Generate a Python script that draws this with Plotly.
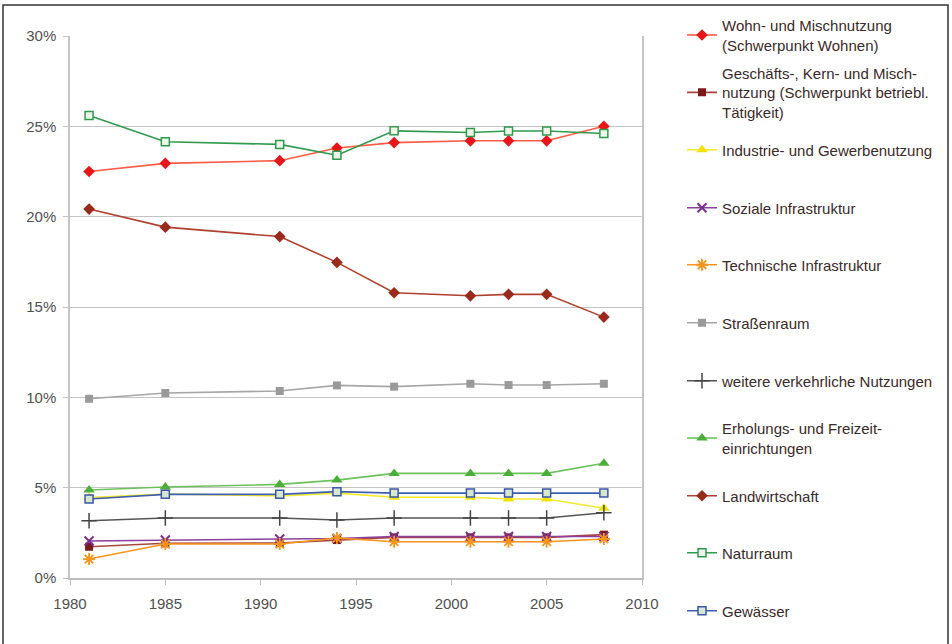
import plotly.graph_objects as go

years = [1981, 1985, 1991, 1994, 1997, 2001, 2003, 2005, 2008]

names = [
    "Wohn- und Mischnutzung<br>(Schwerpunkt Wohnen)",
    "Geschäfts-, Kern- und Misch-<br>nutzung (Schwerpunkt betriebl.<br>Tätigkeit)",
    "Industrie- und Gewerbenutzung",
    "Soziale Infrastruktur",
    "Technische Infrastruktur",
    "Straßenraum",
    "weitere verkehrliche Nutzungen",
    "Erholungs- und Freizeit-<br>einrichtungen",
    "Landwirtschaft",
    "Naturraum",
    "Gewässer",
]

wohn = [22.5, 22.95, 23.1, 23.8, 24.1, 24.2, 24.2, 24.2, 25.0]
geschaefts = [1.73, 1.92, 1.94, 2.1, 2.25, 2.25, 2.25, 2.25, 2.4]
industrie = [4.45, 4.65, 4.54, 4.7, 4.47, 4.47, 4.37, 4.37, 3.86]
soziale = [2.05, 2.1, 2.16, 2.19, 2.3, 2.3, 2.3, 2.3, 2.3]
technische = [1.05, 1.88, 1.88, 2.21, 2.01, 2.01, 2.01, 2.01, 2.16]
strassen = [9.92, 10.24, 10.35, 10.66, 10.59, 10.75, 10.68, 10.68, 10.75]
weitere = [3.17, 3.32, 3.32, 3.21, 3.32, 3.32, 3.32, 3.32, 3.61]
erholung = [4.87, 5.04, 5.18, 5.42, 5.79, 5.79, 5.79, 5.79, 6.35]
landwirtschaft = [20.42, 19.42, 18.9, 17.47, 15.79, 15.62, 15.7, 15.7, 14.44]
naturraum = [25.6, 24.15, 24.0, 23.4, 24.75, 24.66, 24.74, 24.74, 24.6]
gewaesser = [4.37, 4.63, 4.63, 4.78, 4.70, 4.70, 4.70, 4.70, 4.70]

series = [wohn, geschaefts, industrie, soziale, technische, strassen,
          weitere, erholung, landwirtschaft, naturraum, gewaesser]

x_ticks = [1980, 1985, 1990, 1995, 2000, 2005, 2010]
y_ticks = [0, 5, 10, 15, 20, 25, 30]
y_tick_text = ["0%", "5%", "10%", "15%", "20%", "25%", "30%"]

# styles: (line color, marker symbol, marker fill, marker line color, size, marker line width)
styles = [
    ("#ff5a45", "diamond", "#e8161a", "#e8161a", 9, 0),
    ("#a8463c", "square", "#7b1a1a", "#7b1a1a", 8, 0),
    ("#f5ea2a", "triangle-up", "#f2e400", "#f2e400", 10, 0),
    ("#8c3f9e", "x-thin-open", "#7a2e8e", "#7a2e8e", 9, 2),
    ("#f7941d", "asterisk-open", "#f7941d", "#f7941d", 10, 1.8),
    ("#a6a6a6", "square", "#9a9a9a", "#9a9a9a", 8, 0),
    ("#555555", "cross-thin-open", "#444444", "#444444", 11, 1.5),
    ("#6cc25a", "triangle-up", "#4cae3a", "#4cae3a", 10, 0),
    ("#b0402e", "diamond", "#9a2b1c", "#9a2b1c", 9, 0),
    ("#2f9a4e", "square", "#eef6ea", "#2f9a4e", 8, 1.5),
    ("#3f5fb0", "square", "#d6e6cf", "#3b58a8", 8, 1.5),
]

L, R, T, B = 70, 642, 36, 578
W, H = 952, 644
pw, ph = R - L, B - T

legend_y_px = [35, 92.6, 150, 208, 265, 323, 381, 438, 496, 553, 611]

fig = go.Figure()
layout_legends = {}
for i, (nm, vals, st) in enumerate(zip(names, series, styles)):
    lname = "legend" if i == 0 else f"legend{i+1}"
    lc, sym, mf, mlc, sz, mlw = st
    fig.add_trace(go.Scatter(
        x=years, y=vals, name=nm, mode="lines+markers",
        line=dict(color=lc, width=1.6),
        marker=dict(symbol=sym, color=mf, size=sz,
                    line=dict(color=mlc, width=mlw)),
        legend=lname,
    ))
    layout_legends[lname] = dict(
        x=(682 - L) / pw, xanchor="left",
        y=(B - legend_y_px[i]) / ph, yanchor="middle",
        bgcolor="rgba(0,0,0,0)",
        font=dict(family="Liberation Sans, Arial, sans-serif", size=15, color="#3b2a2a"),
        valign="middle",
        itemwidth=30,
    )

fig.update_layout(
    width=W, height=H,
    margin=dict(l=L, r=W - R, t=T, b=H - B, autoexpand=False),
    paper_bgcolor="white", plot_bgcolor="white",
    font=dict(family="Liberation Sans, Arial, sans-serif", size=14, color="#555555"),
    showlegend=True,
    xaxis=dict(
        range=[1980, 2010], tickvals=x_ticks, ticktext=[str(v) for v in x_ticks],
        showgrid=False, zeroline=False,
        showline=True, linecolor="#bdbdbd", linewidth=1.5,
        ticks="outside", ticklen=5, tickcolor="#bdbdbd",
        ticklabelstandoff=6,
        tickfont=dict(size=15, color="#505050"),
    ),
    yaxis=dict(
        range=[0, 30], tickvals=y_ticks, ticktext=y_tick_text,
        showgrid=True, gridcolor="#c4c4c4", gridwidth=1.2,
        zeroline=False,
        showline=True, linecolor="#c4c4c4", linewidth=1.5, mirror=True,
        ticks="outside", ticklen=5, tickcolor="#c4c4c4",
        ticklabelstandoff=4,
        tickfont=dict(size=15, color="#505050"),
    ),
    shapes=[dict(
        type="rect", xref="paper", yref="paper",
        x0=(3 - L) / pw, x1=(948 - L) / pw,
        y0=(B - 660) / ph, y1=(B - 5) / ph,
        line=dict(color="#333333", width=1.5), fillcolor="rgba(0,0,0,0)",
        layer="below",
    )],
    **layout_legends,
)

fig.write_html(
    "out.html",
    config={"displayModeBar": False},
    post_script="document.body.style.margin='0';document.body.style.overflow='hidden';",
)
